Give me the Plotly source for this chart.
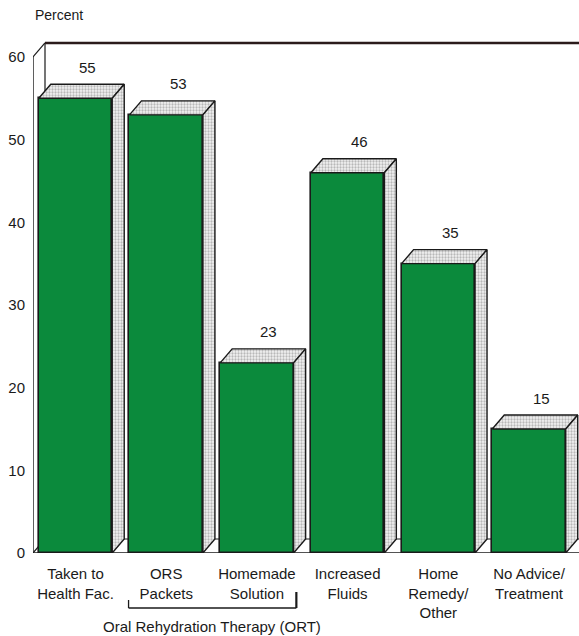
import plotly.graph_objects as go

# Survey results: treatment of diarrhoea, percent of children
categories = ["Taken to<br>Health Fac.", "ORS<br>Packets", "Homemade<br>Solution",
              "Increased<br>Fluids", "Home<br>Remedy/<br>Other", "No Advice/<br>Treatment"]
values = [55, 53, 23, 46, 35, 15]
y_ticks = [0, 10, 20, 30, 40, 50, 60]
y_title = "Percent"
group_label = "Oral Rehydration Therapy (ORT)"
group_members = [1, 2]

GREEN = "#0b8a3c"
INK = "#1a1a1a"
FONT = "Liberation Sans, Arial, sans-serif"

W, H = 579, 636
ML, MR, MT, MB = 33, 0, 40, 83
PX_PER_CAT = 90.7
PX_PER_UNIT = 8.267
plot_w = W - ML - MR
plot_h = H - MT - MB

X0 = -(75.5 - ML) / PX_PER_CAT
X1 = X0 + plot_w / PX_PER_CAT
Y1 = plot_h / PX_PER_UNIT
YMAX = max(y_ticks)

BAR_W = 0.81
DX = 12 / PX_PER_CAT      # depth offset, horizontal
DY = 14 / PX_PER_UNIT     # depth offset, vertical

xs = list(range(len(values)))

fig = go.Figure()

pattern = dict(shape=".", size=3, solidity=0.45, fgcolor="#7d7d7d", bgcolor="#f2f2f2")

# front faces
fig.add_trace(go.Bar(
    x=xs, y=values, width=BAR_W,
    marker=dict(color=GREEN, line=dict(color=INK, width=1.6)),
    hoverinfo="skip", showlegend=False,
))

# top and side faces of each block
for x, v in zip(xs, values):
    l, r = x - BAR_W / 2, x + BAR_W / 2
    fig.add_trace(go.Scatter(
        x=[l, l + DX, r + DX, r, l], y=[v, v + DY, v + DY, v, v],
        mode="lines", fill="toself", fillpattern=pattern, fillcolor="#f2f2f2",
        line=dict(color=INK, width=1.4), hoverinfo="skip", showlegend=False,
    ))
    fig.add_trace(go.Scatter(
        x=[r, r, r + DX, r + DX, r], y=[0, v, v + DY, DY, 0],
        mode="lines", fill="toself", fillpattern=pattern, fillcolor="#f2f2f2",
        line=dict(color=INK, width=1.4), hoverinfo="skip", showlegend=False,
    ))

shapes = []
# left wall
shapes.append(dict(type="line", xref="x", yref="y", x0=X0, x1=X0, y0=0, y1=YMAX,
                   line=dict(color=INK, width=1.4), layer="below"))
shapes.append(dict(type="line", xref="x", yref="y", x0=X0 + DX, x1=X0 + DX, y0=DY, y1=YMAX + DY,
                   line=dict(color=INK, width=1.2), layer="below"))
shapes.append(dict(type="line", xref="x", yref="y", x0=X0, x1=X0 + DX, y0=YMAX, y1=YMAX + DY,
                   line=dict(color=INK, width=1.2), layer="below"))
shapes.append(dict(type="line", xref="x", yref="y", x0=X0, x1=X0 + DX, y0=0, y1=DY,
                   line=dict(color=INK, width=1.2), layer="below"))
# back wall top edge
shapes.append(dict(type="line", xref="x", yref="y", x0=X0 + DX, x1=X1, y0=YMAX + DY, y1=YMAX + DY,
                   line=dict(color="#2b1b1b", width=2.6), layer="below"))
# floor edges
shapes.append(dict(type="line", xref="x", yref="y", x0=X0, x1=X1, y0=0, y1=0,
                   line=dict(color=INK, width=1.6), layer="below"))
shapes.append(dict(type="line", xref="x", yref="y", x0=X0 + DX, x1=X1, y0=DY, y1=DY,
                   line=dict(color=INK, width=1.0), layer="below"))


def paper_x(xv):
    return (xv - X0) / (X1 - X0)


def paper_y_px(py):
    # pixel row (from top of page) to paper coordinate
    return (H - MB - py) / plot_h


# bracket grouping the ORT categories
bx0 = paper_x(group_members[0] - BAR_W / 2 - 0.01)
bx1 = paper_x(group_members[-1] + BAR_W / 2 + 0.03)
yb = paper_y_px(608)
shapes.append(dict(type="line", xref="paper", yref="paper", x0=bx0, x1=bx1, y0=yb, y1=yb,
                   line=dict(color=INK, width=1.3)))
shapes.append(dict(type="line", xref="paper", yref="paper", x0=bx0, x1=bx0, y0=yb, y1=paper_y_px(600),
                   line=dict(color=INK, width=1.3)))
shapes.append(dict(type="line", xref="paper", yref="paper", x0=bx1, x1=bx1, y0=yb, y1=paper_y_px(592),
                   line=dict(color=INK, width=2.2)))

annotations = []
for x, v in zip(xs, values):
    annotations.append(dict(x=x + DX, y=v + DY, xref="x", yref="y", text=str(v),
                            showarrow=False, yanchor="middle", yshift=17,
                            font=dict(family=FONT, size=15, color=INK)))
annotations.append(dict(x=0, y=paper_y_px(15), xref="paper", yref="paper", text=y_title,
                        showarrow=False, xanchor="left", yanchor="middle",
                        font=dict(family=FONT, size=14, color=INK)))
annotations.append(dict(x=sum(group_members) / len(group_members), y=paper_y_px(626),
                        xref="x", yref="paper", text=group_label, showarrow=False,
                        xanchor="center", yanchor="middle",
                        font=dict(family=FONT, size=15, color=INK)))

fig.update_layout(
    width=W, height=H,
    margin=dict(l=ML, r=MR, t=MT, b=MB),
    paper_bgcolor="white", plot_bgcolor="white",
    font=dict(family=FONT, color=INK),
    shapes=shapes, annotations=annotations,
    xaxis=dict(range=[X0, X1], tickvals=xs, ticktext=categories, showgrid=False,
               zeroline=False, showline=False, ticks="", ticklabelstandoff=10,
               tickfont=dict(family=FONT, size=15, color=INK), fixedrange=True),
    yaxis=dict(range=[0, Y1], tickvals=y_ticks, showgrid=False, zeroline=False,
               showline=False, ticks="", ticklabelstandoff=7,
               tickfont=dict(family=FONT, size=15, color=INK), fixedrange=True),
    bargap=0,
)

fig.write_html("out.html")
